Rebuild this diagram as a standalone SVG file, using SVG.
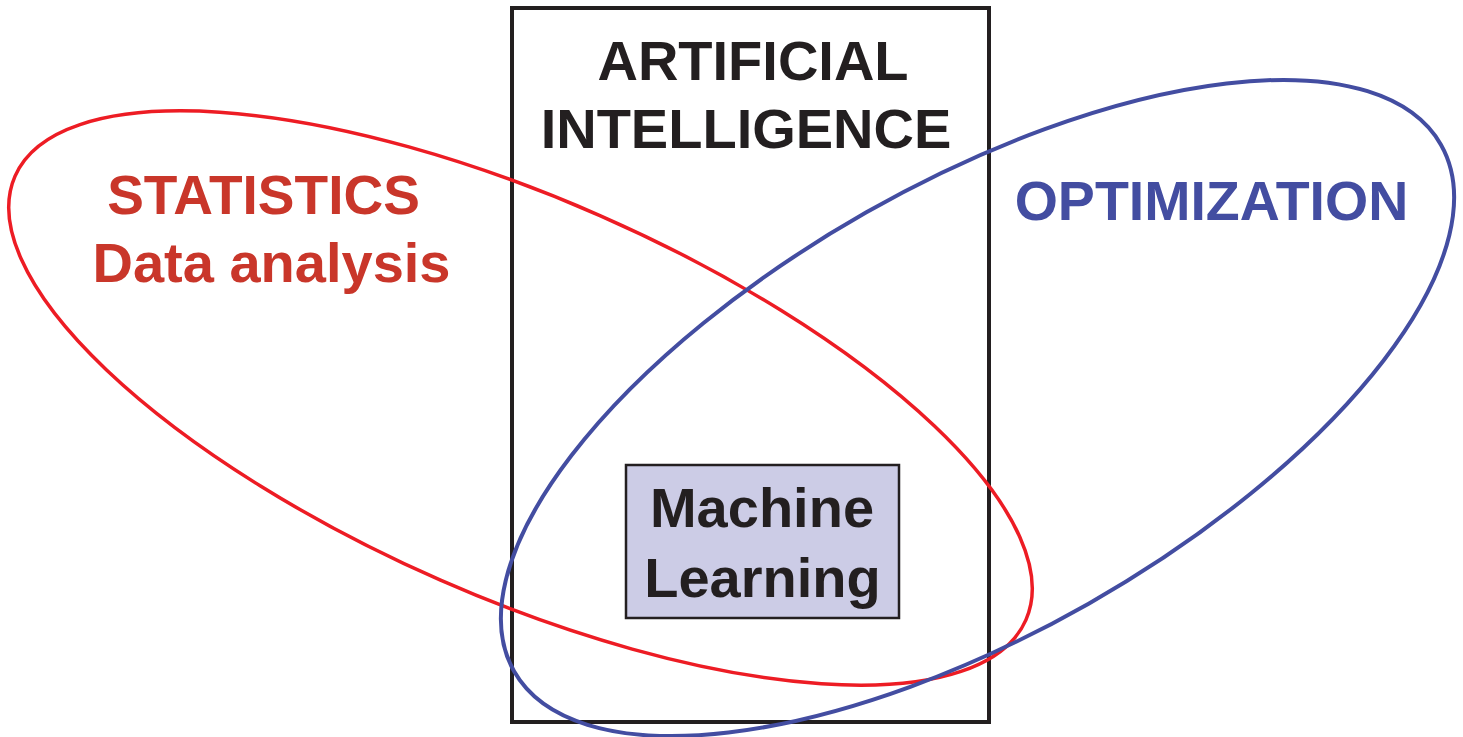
<svg xmlns="http://www.w3.org/2000/svg" width="1463" height="737" viewBox="0 0 1463 737">
<style>
.t{font-family:"Liberation Sans",Arial,sans-serif;font-weight:bold;text-anchor:middle}
.k{fill:#231f20}
.r{fill:#c9362a}
.b{fill:#434da1}
</style>
<rect width="1463" height="737" fill="#ffffff"/>
<g id="ai">
<rect x="512" y="8" width="477" height="714" fill="none" stroke="#231f20" stroke-width="4"/>
<text class="t k" x="753" y="80" font-size="56">ARTIFICIAL</text>
<text class="t k" x="746" y="148" font-size="56">INTELLIGENCE</text>
</g>
<g id="ml">
<rect x="626" y="465" width="273" height="153" fill="#cccce6" stroke="#231f20" stroke-width="2.5"/>
<text class="t k" x="762" y="527" font-size="56">Machine</text>
<text class="t k" x="762.5" y="597" font-size="56">Learning</text>
</g>
<g id="statistics">
<ellipse cx="520.5" cy="398" rx="552" ry="199" transform="rotate(23.7 520.5 398)" fill="none" stroke="#ed1c24" stroke-width="3.5"/>
<text class="t r" x="263.5" y="214" font-size="55">STATISTICS</text>
<text class="t r" x="271.5" y="282" font-size="56">Data analysis</text>
</g>
<g id="optimization">
<ellipse cx="977.5" cy="408" rx="533" ry="225" transform="rotate(-29.6 977.5 408)" fill="none" stroke="#434da1" stroke-width="4"/>
<text class="t b" x="1211.5" y="220" font-size="55.5">OPTIMIZATION</text>
</g>
<g id="connectors"></g>
</svg>
